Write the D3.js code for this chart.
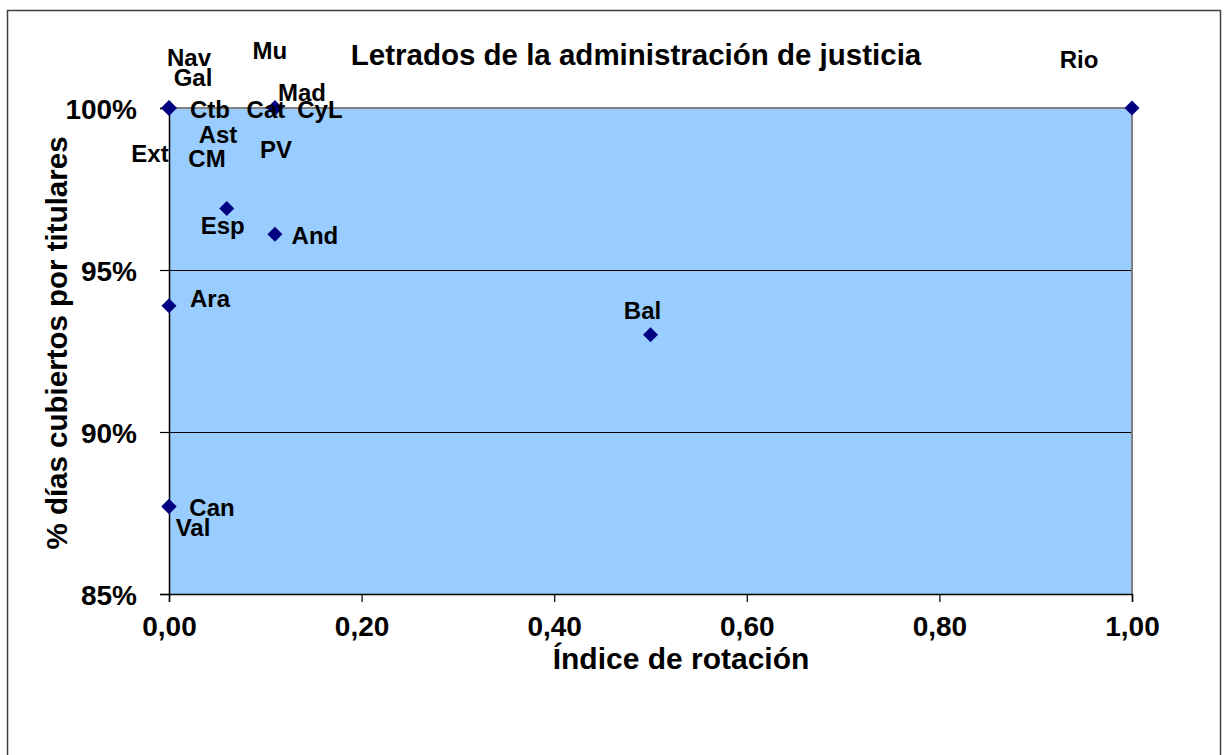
<!DOCTYPE html>
<html>
<head>
<meta charset="utf-8">
<script src="https://cdn.jsdelivr.net/npm/d3@7"></script>
<style>
  html, body { margin: 0; padding: 0; background: #ffffff; }
  svg { display: block; font-family: "Liberation Sans", Arial, sans-serif; font-weight: bold; }
</style>
</head>
<body>
<svg id="chart" width="1224" height="755"></svg>
<script>
// Letrados de la administración de justicia: rotation index vs. share of days covered by holders
const regions  = ["Nav", "Gal", "Ctb", "Ext", "CM", "Ast", "Mu", "Mad", "Cat", "CyL", "PV", "Esp", "And", "Ara", "Bal", "Can", "Val", "Rio"];
const rotation = [0, 0, 0, 0, 0, 0, 0.11, 0.11, 0.11, 0.11, 0.11, 0.06, 0.11, 0, 0.50, 0, 0, 1.00];
const coverage = [1, 1, 1, 1, 1, 1, 1, 1, 1, 1, 1, 0.969, 0.961, 0.939, 0.930, 0.877, 0.877, 1];

const xTicks = [0, 0.2, 0.4, 0.6, 0.8, 1.0];
const yTicks = [0.85, 0.90, 0.95, 1.00];

const titleText = "Letrados de la administración de justicia";
const xTitle = "Índice de rotación";
const yTitle = "% días cubiertos por titulares";

// Hand-placed data-label offsets (label centre relative to its marker), in px
const labelOffsets = {
  Nav: [20, -51], Gal: [24, -31], Ctb: [41, 1], Ext: [-19, 45], CM: [38, 50], Ast: [49, 26],
  Mu: [-5, -58], Mad: [27, -16], Cat: [-9, 1], CyL: [45, 1], PV: [1, 41],
  Esp: [-4, 17], And: [40, 1], Ara: [41, -7], Bal: [-8, -24], Can: [43, 1], Val: [24, 21], Rio: [-53, -49]
};

const svg = d3.select("#chart");
const plot = { left: 169, right: 1132, top: 108, bottom: 594 };

const x = d3.scaleLinear().domain([0, 1]).range([plot.left, plot.right]);
const y = d3.scaleLinear().domain([0.85, 1]).range([plot.bottom, plot.top]);

// outer chart frame
svg.append("rect")
  .attr("x", 7.5).attr("y", 10.5).attr("width", 1213).attr("height", 760)
  .attr("fill", "#ffffff").attr("stroke", "#404040").attr("stroke-width", 1.5);

// plot area
svg.append("rect")
  .attr("x", plot.left).attr("y", plot.top)
  .attr("width", plot.right - plot.left).attr("height", plot.bottom - plot.top)
  .attr("fill", "#99ccff");

// horizontal gridlines
svg.append("g").selectAll("line")
  .data(yTicks.filter(t => t > 0.85 && t < 1))
  .join("line")
  .attr("x1", plot.left).attr("x2", plot.right)
  .attr("y1", d => y(d) + 0.5).attr("y2", d => y(d) + 0.5)
  .attr("stroke", "#000000").attr("stroke-width", 1);

// plot border (top and right in grey)
svg.append("path")
  .attr("d", `M${plot.left},${plot.top}H${plot.right}V${plot.bottom}`)
  .attr("fill", "none").attr("stroke", "#808080").attr("stroke-width", 2);

// axes
const fmtX = v => d3.format(".2f")(v).replace(".", ",");
const fmtY = v => d3.format(".0%")(v);

const xAxis = svg.append("g")
  .attr("transform", `translate(0,${plot.bottom})`)
  .call(d3.axisBottom(x).tickValues(xTicks).tickFormat(fmtX).tickSize(8).tickPadding(14));
const yAxis = svg.append("g")
  .attr("transform", `translate(${plot.left},0)`)
  .call(d3.axisLeft(y).tickValues(yTicks).tickFormat(fmtY).tickSize(9).tickPadding(23));

[xAxis, yAxis].forEach(g => {
  g.select(".domain").attr("stroke", "#000000").attr("stroke-width", 1.5);
  g.selectAll(".tick line").attr("stroke", "#000000").attr("stroke-width", 1.2);
  g.selectAll("text")
    .attr("fill", "#000000")
    .style("font-family", "'Liberation Sans', Arial, sans-serif")
    .style("font-weight", "bold")
    .style("font-size", "28px");
});
yAxis.selectAll("text").attr("dy", "0.36em");
xAxis.selectAll("text").attr("dy", "0.71em");

// title
svg.append("text")
  .attr("x", 636).attr("y", 65)
  .attr("text-anchor", "middle")
  .style("font-size", "29.5px")
  .text(titleText);

// axis titles
svg.append("text")
  .attr("x", 681).attr("y", 669)
  .attr("text-anchor", "middle")
  .style("font-size", "30px")
  .text(xTitle);

svg.append("text")
  .attr("transform", "translate(67,343) rotate(-90)")
  .attr("text-anchor", "middle")
  .style("font-size", "29.5px")
  .text(yTitle);

// markers
const points = regions.map((r, i) => ({ name: r, rx: rotation[i], cv: coverage[i] }));
const s = 7.5;
svg.append("g").selectAll("path")
  .data(points)
  .join("path")
  .attr("d", `M0,${-s}L${s},0L0,${s}L${-s},0Z`)
  .attr("transform", d => `translate(${x(d.rx)},${y(d.cv)})`)
  .attr("fill", "#000080");

// data labels
svg.append("g").selectAll("text")
  .data(points)
  .join("text")
  .attr("x", d => x(d.rx) + labelOffsets[d.name][0])
  .attr("y", d => y(d.cv) + labelOffsets[d.name][1])
  .attr("dy", "0.36em")
  .attr("text-anchor", "middle")
  .style("font-size", "24px")
  .attr("fill", "#000000")
  .text(d => d.name);
</script>
</body>
</html>
